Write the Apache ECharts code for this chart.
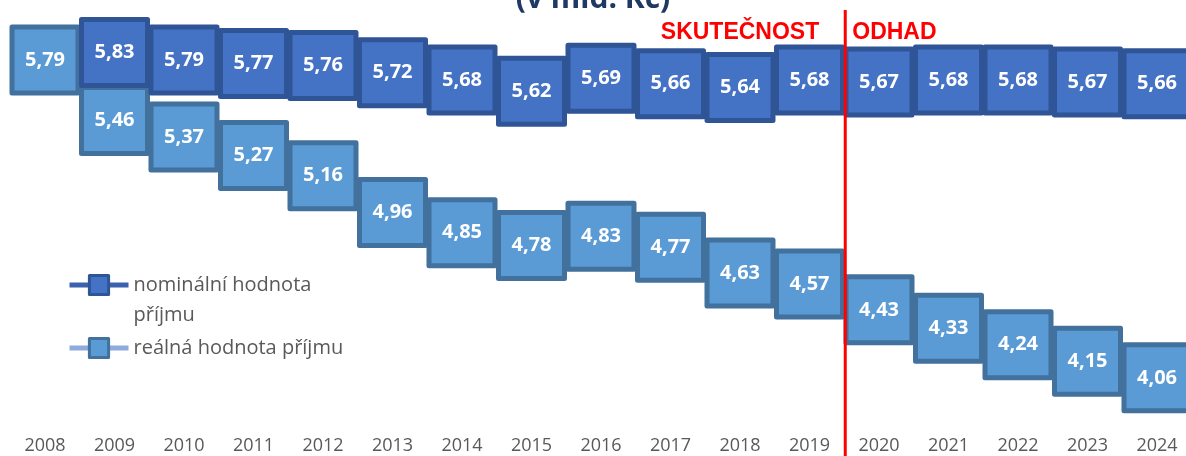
<!DOCTYPE html>
<html>
<head>
<meta charset="utf-8">
<script src="https://cdn.jsdelivr.net/npm/echarts@6/dist/echarts.min.js"></script>
<style>
  html, body { margin: 0; padding: 0; background: #fff; }
  #main { width: 1186px; height: 456px; }
</style>
</head>
<body>
<div id="main"></div>
<script>
// roky a hodnoty příjmu (v mld. Kč)
const years = ['2008', '2009', '2010', '2011', '2012', '2013', '2014', '2015', '2016',
  '2017', '2018', '2019', '2020', '2021', '2022', '2023', '2024']
const nominal = [null, 5.83, 5.79, 5.77, 5.76, 5.72, 5.68, 5.62, 5.69,
  5.66, 5.64, 5.68, 5.67, 5.68, 5.68, 5.67, 5.66]
const real = [5.79, 5.46, 5.37, 5.27, 5.16, 4.96, 4.85, 4.78, 4.83,
  4.77, 4.63, 4.57, 4.43, 4.33, 4.24, 4.15, 4.06]
const nominalName = 'nominální hodnota příjmu'
const realName = 'reálná hodnota příjmu'
const lastActual = '2019'
const firstEstimate = '2020'

const myChart = echarts.init(document.getElementById('main'))

const label = {
  show: true,
  position: 'inside',
  formatter: (p) => p.value.toFixed(2).replace('.', ','),
  color: '#fff',
  fontFamily: 'Open Sans',
  fontWeight: 'bold',
  fontSize: 20
}

const legendBase = {
  orient: 'vertical',
  left: 67,
  padding: 0,
  itemWidth: 59,
  itemHeight: 24,
  selectedMode: false,
  lineStyle: { width: 5 },
  itemStyle: { borderWidth: 3 }
}

const option = {
  animation: false,
  title: {
    text: '(v mld. Kč)',
    left: 'center',
    top: -16,
    padding: 0,
    textStyle: { color: '#1F3864', fontFamily: 'Open Sans', fontWeight: 'bold', fontSize: 30 }
  },
  legend: [
    Object.assign({}, legendBase, {
      data: [nominalName],
      top: 240,
      // prázdný první řádek, aby ikona seděla u prvního řádku textu
      formatter: (name) => '\n' + name,
      textStyle: {
        color: '#595959', fontFamily: 'Open Sans', fontSize: 20, lineHeight: 30,
        width: 215, overflow: 'break'
      }
    }),
    Object.assign({}, legendBase, {
      data: [realName],
      top: 333,
      textStyle: { color: '#595959', fontFamily: 'Open Sans', fontSize: 20, lineHeight: 30 }
    })
  ],
  grid: { left: 10.25, width: 1181.5, top: 0, height: 430, outerBoundsMode: 'none' },
  xAxis: {
    type: 'category',
    data: years,
    axisLine: { show: false },
    axisTick: { show: false },
    axisLabel: { color: '#595959', fontFamily: 'Open Sans', fontSize: 18, margin: 7 }
  },
  yAxis: {
    type: 'value',
    min: 3.776,
    max: 6.116,
    show: false
  },
  series: [
    {
      name: realName,
      type: 'line',
      data: real,
      symbol: 'rect',
      symbolSize: 66,
      lineStyle: { color: '#8FAADC', width: 5 },
      itemStyle: { color: '#5B9BD5', borderColor: '#41719C', borderWidth: 5, borderJoin: 'round' },
      label: label,
      emphasis: { disabled: true }
    },
    {
      name: nominalName,
      type: 'line',
      data: nominal,
      symbol: 'rect',
      symbolSize: 66,
      lineStyle: { color: '#3A62AE', width: 5 },
      itemStyle: { color: '#4472C4', borderColor: '#2F5597', borderWidth: 5, borderJoin: 'round' },
      label: label,
      emphasis: { disabled: true }
    }
  ]
}

myChart.setOption(option)

// dělicí čára mezi skutečností a odhadem
const xA = myChart.convertToPixel({ xAxisIndex: 0 }, lastActual)
const xB = myChart.convertToPixel({ xAxisIndex: 0 }, firstEstimate)
const splitX = (xA + xB) / 2 + 1

myChart.setOption({
  graphic: [
    {
      type: 'line',
      shape: { x1: splitX, y1: 10, x2: splitX, y2: 456 },
      style: { stroke: '#FF0000', lineWidth: 3 },
      z: 100
    },
    {
      type: 'text',
      x: splitX - 26,
      y: 33,
      style: {
        text: 'SKUTEČNOST', fill: '#FF0000', align: 'right', verticalAlign: 'middle',
        font: 'bold 23px "Liberation Sans", Arial, sans-serif'
      }
    },
    {
      type: 'text',
      x: splitX + 7,
      y: 33,
      style: {
        text: 'ODHAD', fill: '#FF0000', align: 'left', verticalAlign: 'middle',
        font: 'bold 23px "Liberation Sans", Arial, sans-serif'
      }
    }
  ]
})
</script>
</body>
</html>
